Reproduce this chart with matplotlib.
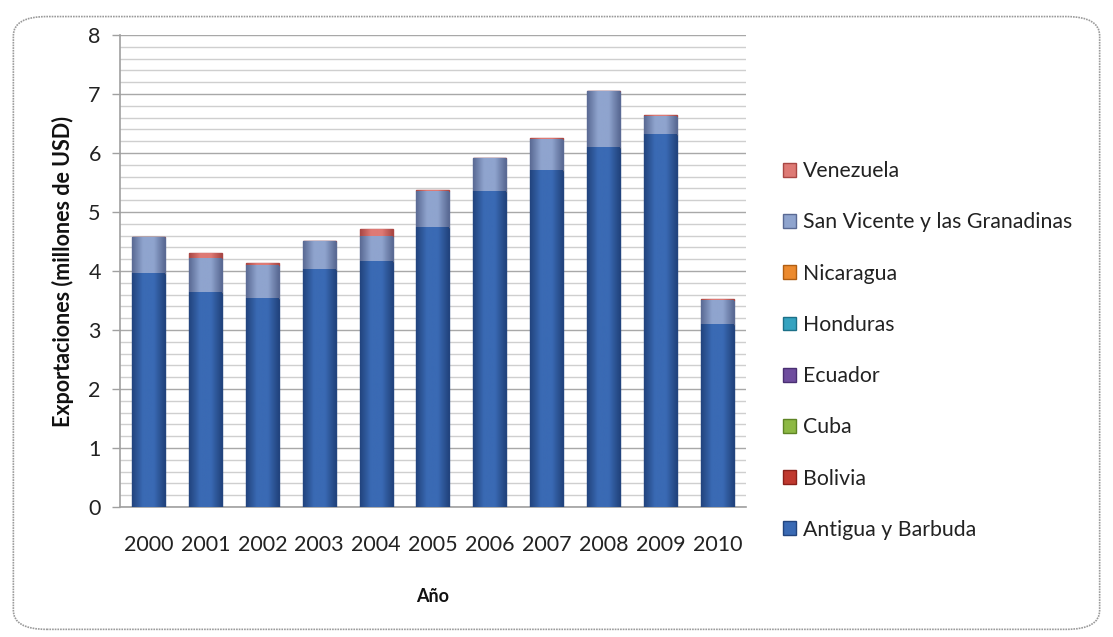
import numpy as np
import matplotlib.pyplot as plt
from matplotlib.patches import FancyBboxPatch, Patch
from matplotlib.colors import LinearSegmentedColormap

plt.rcParams['font.family'] = ['Lato', 'DejaVu Sans']

years = ['2000', '2001', '2002', '2003', '2004', '2005',
         '2006', '2007', '2008', '2009', '2010']

# exportaciones por destino, millones de USD
antigua = [3.97, 3.65, 3.54, 4.03, 4.17, 4.74, 5.36, 5.72, 6.11, 6.33, 3.10]
bolivia = [0, 0, 0, 0, 0, 0, 0, 0, 0, 0, 0]
cuba = [0, 0, 0, 0, 0, 0, 0, 0, 0, 0, 0]
ecuador = [0, 0, 0, 0, 0, 0, 0, 0, 0, 0, 0]
honduras = [0, 0, 0, 0, 0, 0, 0, 0, 0, 0, 0]
nicaragua = [0, 0, 0, 0, 0, 0, 0, 0, 0, 0, 0]
san_vicente = [0.60, 0.57, 0.57, 0.48, 0.43, 0.61, 0.56, 0.51, 0.94, 0.29, 0.41]
venezuela = [0.01, 0.08, 0.02, 0.00, 0.12, 0.02, 0.00, 0.02, 0.00, 0.02, 0.01]

series = [
    ('Antigua y Barbuda', antigua, '#3A6AB4', '#22447E'),
    ('Bolivia', bolivia, '#C0392F', '#8A201A'),
    ('Cuba', cuba, '#8DB844', '#5E8425'),
    ('Ecuador', ecuador, '#6F4D9E', '#4A2F72'),
    ('Honduras', honduras, '#35A3C0', '#1C7088'),
    ('Nicaragua', nicaragua, '#EC8A2E', '#B05E12'),
    ('San Vicente y las Granadinas', san_vicente, '#8FA4CE', '#5A6A94'),
    ('Venezuela', venezuela, '#DE7A75', '#A94744'),
]

fig = plt.figure(figsize=(11.13, 6.37), dpi=100)
fig.patches.append(FancyBboxPatch((0.012, 0.012), 0.976, 0.962,
                                  boxstyle='round,pad=0,rounding_size=0.03',
                                  transform=fig.transFigure, fill=False,
                                  edgecolor='#9A9A9A', linewidth=1.2,
                                  linestyle=(0, (1, 0.6))))

ax = fig.add_axes([0.108, 0.204, 0.562, 0.741])
x = np.arange(len(years))
width = 0.58
bottom = np.zeros(len(years))
handles = []
grad = np.linspace(0, 1, 64).reshape(1, -1)
for name, vals, color, edge in series:
    vals = np.array(vals, dtype=float)
    bars = ax.bar(x, vals, width=width, bottom=bottom, color=color,
                  edgecolor=edge, linewidth=1.0, zorder=3)
    # sombreado horizontal: bordes oscuros, centro claro
    cmap = LinearSegmentedColormap.from_list(
        name, [edge, color, color, edge])
    for b in bars:
        if b.get_height() <= 0:
            continue
        x0, y0 = b.get_x(), b.get_y()
        im = ax.imshow(grad, cmap=cmap, aspect='auto', zorder=3.5,
                       extent=(x0, x0 + b.get_width(), y0, y0 + b.get_height()))
        im.set_clip_path(b)
    bottom += vals
    handles.append(Patch(facecolor=color, edgecolor=edge, label=name))

ax.set_xlim(-0.5, len(years) - 0.5)
ax.set_ylim(0, 8)
ax.set_yticks(np.arange(0, 9, 1))
ax.set_yticks(np.arange(0, 8.01, 0.2), minor=True)
ax.set_xticks(x)
ax.set_xticklabels(years)
ax.grid(axis='y', which='major', color='#A8A8A8', linewidth=1.0, zorder=0)
ax.grid(axis='y', which='minor', color='#CFCFCF', linewidth=1.0, zorder=0)
ax.tick_params(axis='y', which='major', length=6, width=1, color='#A0A0A0',
               labelsize=15.5, pad=8, labelcolor='#222222')
ax.tick_params(axis='y', which='minor', length=0)
ax.tick_params(axis='x', length=0, labelsize=15.5, pad=20,
               labelcolor='#222222')
for side in ['top', 'right']:
    ax.spines[side].set_visible(False)
ax.spines['left'].set_color('#A0A0A0')
ax.spines['left'].set_linewidth(1.2)
ax.spines['bottom'].set_color('#A0A0A0')
ax.spines['bottom'].set_linewidth(1.2)

ax.set_ylabel('Exportaciones (millones de USD)', fontsize=15.5,
              fontweight='bold', labelpad=10, color='#111111')
ax.set_xlabel('Año', fontsize=13, fontweight='bold', labelpad=24,
              color='#111111')

fig.legend(handles=handles[::-1], loc='upper left',
           bbox_to_anchor=(0.686, 0.777), frameon=False, fontsize=15.3,
           handlelength=0.62, handleheight=0.62, handletextpad=0.35,
           labelspacing=1.47, labelcolor='#222222')

fig.savefig('out.png', dpi=100)
